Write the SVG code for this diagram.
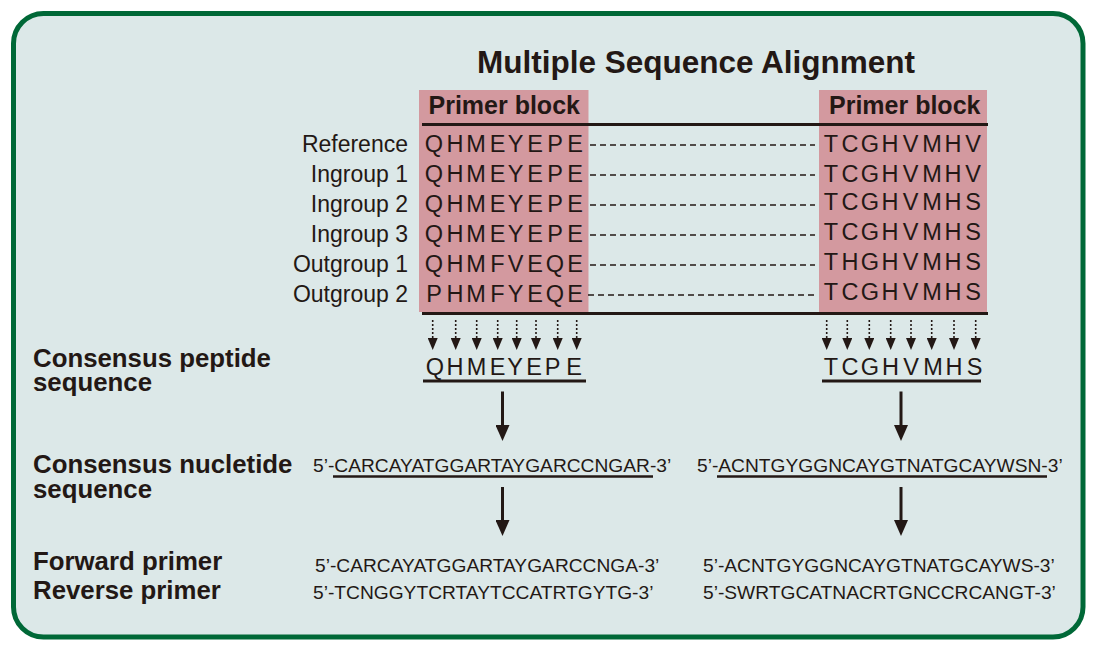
<svg xmlns="http://www.w3.org/2000/svg" width="1113" height="651" viewBox="0 0 1113 651">
<defs>
<style>
.t{font-family:"Liberation Sans",Arial,Helvetica,sans-serif;fill:#231815}
.title{font-size:31.5px;font-weight:bold}
.pb{font-size:25px;font-weight:bold}
.lbl{font-size:23px}
.seq{font-size:23.5px}
.hd{font-size:25.8px;font-weight:bold}
.nt{font-size:19.2px}
.rule{stroke:#231815;stroke-width:3;fill:none}
.dash{stroke:#231815;stroke-width:1.6;stroke-dasharray:6 4;fill:none}
.dot{stroke:#231815;stroke-width:1.6;stroke-dasharray:2 2;fill:none}
.shaft{stroke:#231815;stroke-width:3;fill:none}
</style>
<marker id="sm" markerUnits="userSpaceOnUse" markerWidth="12" markerHeight="10" viewBox="0 0 12 10" refX="0" refY="5" orient="auto">
<path d="M0,0 L12,5 L0,10 z" fill="#231815"/>
</marker>
<marker id="bg" markerUnits="userSpaceOnUse" markerWidth="16" markerHeight="14" viewBox="0 0 16 14" refX="0" refY="7" orient="auto">
<path d="M0,0 L16,7 L0,14 z" fill="#231815"/>
</marker>
</defs>

<g id="frame">
<rect x="13.5" y="13.5" width="1069.5" height="623.5" rx="30" ry="30" fill="#dce8e8" stroke="#006837" stroke-width="5"/>
</g>

<g id="title"><text class="t title" x="696" y="73" text-anchor="middle">Multiple Sequence Alignment</text></g>

<g id="block-left">
<rect x="419" y="90" width="169.5" height="222" fill="#d3999f"/>
<text class="t pb" x="428.5" y="114">Primer block</text>
</g>
<g id="block-right">
<rect x="819" y="90" width="168" height="222" fill="#d3999f"/>
<text class="t pb" x="829" y="114">Primer block</text>
</g>

<g id="rules">
<line class="rule" x1="422" y1="124.5" x2="988" y2="124.5"/>
<line class="rule" x1="422" y1="313.5" x2="988" y2="313.5"/>
</g>

<g id="row-labels" text-anchor="end">
<text class="t lbl" x="408" y="152">Reference</text>
<text class="t lbl" x="408" y="182">Ingroup 1</text>
<text class="t lbl" x="408" y="212">Ingroup 2</text>
<text class="t lbl" x="408" y="242">Ingroup 3</text>
<text class="t lbl" x="408" y="272">Outgroup 1</text>
<text class="t lbl" x="408" y="302">Outgroup 2</text>
</g>

<g id="seq-left" text-anchor="middle">
<text class="t seq" x="434 455 476 497.5 515.5 535 555 575" y="152">QHMEYEPE</text>
<text class="t seq" x="434 455 476 497.5 515.5 535 555 575" y="182">QHMEYEPE</text>
<text class="t seq" x="434 455 476 497.5 515.5 535 555 575" y="212">QHMEYEPE</text>
<text class="t seq" x="434 455 476 497.5 515.5 535 555 575" y="242">QHMEYEPE</text>
<text class="t seq" x="434 455 476 497.5 515.5 535 555 575" y="272">QHMFVEQE</text>
<text class="t seq" x="434 455 476 497.5 515.5 535 555 575" y="302">PHMFYEQE</text>
</g>

<g id="seq-right" text-anchor="middle">
<text class="t seq" x="831 850 870 890 910.5 932 953 973" y="152">TCGHVMHV</text>
<text class="t seq" x="831 850 870 890 910.5 932 953 973" y="182">TCGHVMHV</text>
<text class="t seq" x="831 850 870 890 910.5 932 953 973" y="210">TCGHVMHS</text>
<text class="t seq" x="831 850 870 890 910.5 932 953 973" y="240">TCGHVMHS</text>
<text class="t seq" x="831 850 870 890 910.5 932 953 973" y="270">THGHVMHS</text>
<text class="t seq" x="831 850 870 890 910.5 932 953 973" y="300">TCGHVMHS</text>
</g>

<g id="left-labels">
<text class="t hd" x="33" y="367">Consensus peptide</text>
<text class="t hd" x="33" y="391">sequence</text>
<text class="t hd" x="33" y="473">Consensus nucletide</text>
<text class="t hd" x="33" y="497.5">sequence</text>
<text class="t hd" x="33" y="570">Forward primer</text>
<text class="t hd" x="33" y="599">Reverse primer</text>
</g>

<g id="consensus-peptide">
<text class="t seq" text-anchor="middle" x="435 455 476.5 497.5 515 534 552.5 574" y="375">QHMEYEPE</text>
<line class="rule" x1="423" y1="381" x2="586" y2="381"/>
<text class="t seq" text-anchor="middle" x="831 850 870 890.5 911 933 954 974.5" y="375">TCGHVMHS</text>
<line class="rule" x1="822" y1="381" x2="981" y2="381"/>
</g>

<g id="consensus-nucleotide">
<text class="t nt" x="313" y="471.5">5’-CARCAYATGGARTAYGARCCNGAR-3’</text>
<line x1="333" y1="476.5" x2="653" y2="476.5" stroke="#231815" stroke-width="2.5"/>
<text class="t nt" x="697" y="471.5">5’-ACNTGYGGNCAYGTNATGCAYWSN-3’</text>
<line x1="717" y1="476.5" x2="1047" y2="476.5" stroke="#231815" stroke-width="2.5"/>
</g>

<g id="primers">
<text class="t nt" x="315" y="571.5">5’-CARCAYATGGARTAYGARCCNGA-3’</text>
<text class="t nt" x="313" y="599">5’-TCNGGYTCRTAYTCCATRTGYTG-3’</text>
<text class="t nt" x="703" y="571.5">5’-ACNTGYGGNCAYGTNATGCAYWS-3’</text>
<text class="t nt" x="703" y="599">5’-SWRTGCATNACRTGNCCRCANGT-3’</text>
</g>

<g id="connectors">
<g id="row-dashes">
<line class="dash" x1="590" y1="145" x2="815" y2="145"/>
<line class="dash" x1="590" y1="175" x2="815" y2="175"/>
<line class="dash" x1="590" y1="205" x2="815" y2="205"/>
<line class="dash" x1="590" y1="235" x2="815" y2="235"/>
<line class="dash" x1="590" y1="265" x2="815" y2="265"/>
<line class="dash" x1="588" y1="295" x2="815" y2="295"/>
</g>
<g id="dotted-arrows">
<line class="dot" x1="432.7" y1="320" x2="432.7" y2="338" marker-end="url(#sm)"/>
<line class="dot" x1="455.7" y1="320" x2="455.7" y2="338" marker-end="url(#sm)"/>
<line class="dot" x1="476.7" y1="320" x2="476.7" y2="338" marker-end="url(#sm)"/>
<line class="dot" x1="497.7" y1="320" x2="497.7" y2="338" marker-end="url(#sm)"/>
<line class="dot" x1="516.7" y1="320" x2="516.7" y2="338" marker-end="url(#sm)"/>
<line class="dot" x1="536" y1="320" x2="536" y2="338" marker-end="url(#sm)"/>
<line class="dot" x1="557.7" y1="320" x2="557.7" y2="338" marker-end="url(#sm)"/>
<line class="dot" x1="576.7" y1="320" x2="576.7" y2="338" marker-end="url(#sm)"/>
<line class="dot" x1="826.7" y1="320" x2="826.7" y2="338" marker-end="url(#sm)"/>
<line class="dot" x1="847.3" y1="320" x2="847.3" y2="338" marker-end="url(#sm)"/>
<line class="dot" x1="869.3" y1="320" x2="869.3" y2="338" marker-end="url(#sm)"/>
<line class="dot" x1="890.7" y1="320" x2="890.7" y2="338" marker-end="url(#sm)"/>
<line class="dot" x1="911" y1="320" x2="911" y2="338" marker-end="url(#sm)"/>
<line class="dot" x1="931.7" y1="320" x2="931.7" y2="338" marker-end="url(#sm)"/>
<line class="dot" x1="954" y1="320" x2="954" y2="338" marker-end="url(#sm)"/>
<line class="dot" x1="975.7" y1="320" x2="975.7" y2="338" marker-end="url(#sm)"/>
</g>
<g id="big-arrows">
<line class="shaft" x1="502.5" y1="391.5" x2="502.5" y2="425" marker-end="url(#bg)"/>
<line class="shaft" x1="901" y1="391.5" x2="901" y2="425" marker-end="url(#bg)"/>
<line class="shaft" x1="502.5" y1="487" x2="502.5" y2="520" marker-end="url(#bg)"/>
<line class="shaft" x1="901" y1="487" x2="901" y2="520" marker-end="url(#bg)"/>
</g>
</g>
</svg>
